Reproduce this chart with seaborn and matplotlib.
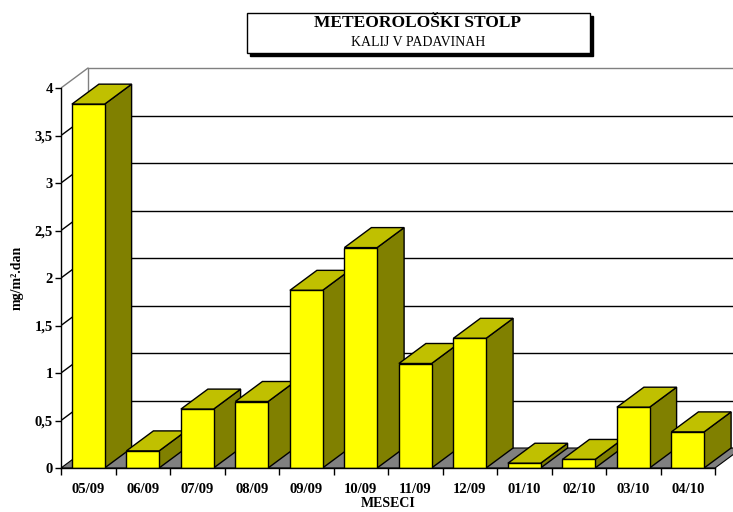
import matplotlib
matplotlib.use('Agg')
import matplotlib.pyplot as plt
import seaborn as sns
import pandas as pd
import numpy as np
from matplotlib.patches import Polygon, Rectangle

# podatki: kalij v padavinah po mesecih
meseci = ['05/09', '06/09', '07/09', '08/09', '09/09', '10/09',
          '11/09', '12/09', '01/10', '02/10', '03/10', '04/10']
kalij = [3.83, 0.18, 0.62, 0.70, 1.87, 2.32, 1.10, 1.365, 0.05, 0.09, 0.64, 0.38]
y_ticks = [0, 0.5, 1, 1.5, 2, 2.5, 3, 3.5, 4]

df = pd.DataFrame({'mesec': meseci, 'kalij': kalij})

sns.set_style('white')
plt.rcParams['font.family'] = ['Liberation Serif', 'DejaVu Serif']
plt.rcParams['text.color'] = 'black'
plt.rcParams['axes.labelcolor'] = 'black'
plt.rcParams['xtick.color'] = 'black'
plt.rcParams['ytick.color'] = 'black'

W, H = 733, 512
fig = plt.figure(figsize=(W / 100, H / 100), dpi=100)

# geometrija (piksli)
x0, y0 = 61, 468      # izhodisce sprednje osi
cat_px, unit_px = 54.5, 95
dx_px, dy_px = 27, 20  # globina 3D ucinka
xmin, xmax = -0.5, 12.0
ymin, ymax = 0, 4.25
ax = fig.add_axes([x0 / W, (H - y0) / H,
                   (xmax - xmin) * cat_px / W, (ymax - ymin) * unit_px / H])
DX = dx_px / cat_px
DY = dy_px / unit_px

# zadnja stena in stranska stena
for v in y_ticks[1:]:
    c = '#808080' if v == 4 else 'black'
    ax.plot([-0.5 + DX, xmax], [v + DY, v + DY], color=c, lw=1, zorder=0.5, clip_on=False)
    ax.plot([-0.5, -0.5 + DX], [v, v + DY], color=c, lw=1, zorder=0.5)
ax.plot([-0.5 + DX, -0.5 + DX], [DY, 4 + DY], color='#808080', lw=1, zorder=0.5)

# tla
n = len(meseci)
floor = Polygon([(-0.5, 0), (n - 0.5, 0), (n - 0.5 + DX, DY), (-0.5 + DX, DY)],
                closed=True, facecolor='#808080', edgecolor='black', lw=0.8, zorder=1)
ax.add_patch(floor)

sns.barplot(data=df, x='mesec', y='kalij', color='#FFFF00', saturation=1,
            width=0.6, edgecolor='black', linewidth=1, ax=ax)

for i, p in enumerate(ax.patches[-n:]):
    x, w, h = p.get_x(), p.get_width(), p.get_height()
    z = 3 + i * 0.1
    p.set_zorder(z + 0.05)
    top = Polygon([(x, h), (x + w, h), (x + w + DX, h + DY), (x + DX, h + DY)],
                  closed=True, facecolor='#C0C000', edgecolor='black', lw=1, zorder=z)
    side = Polygon([(x + w, 0), (x + w + DX, DY), (x + w + DX, h + DY), (x + w, h)],
                   closed=True, facecolor='#808000', edgecolor='black', lw=1, zorder=z)
    ax.add_patch(side)
    ax.add_patch(top)

ax.set_xlim(xmin, xmax)
ax.set_ylim(ymin, ymax)

for s in ['top', 'right']:
    ax.spines[s].set_visible(False)
ax.spines['left'].set_bounds(0, 4)
ax.spines['bottom'].set_bounds(-0.5, n - 0.5)
for s in ['left', 'bottom']:
    ax.spines[s].set_color('black')
    ax.spines[s].set_linewidth(1)
    ax.spines[s].set_zorder(10)

ax.set_yticks(y_ticks)
ax.set_yticklabels([('%g' % v).replace('.', ',') for v in y_ticks],
                   fontweight='bold', fontsize=10.5)
ax.tick_params(axis='y', direction='out', length=4, width=1, color='black', pad=2, left=True)
ax.set_xticks(range(n))
ax.set_xticklabels(meseci, fontweight='bold', fontsize=10.5)
ax.set_xticks(np.arange(-0.5, n, 1), minor=True)
ax.tick_params(axis='x', which='major', length=0, pad=11)
ax.tick_params(axis='x', which='minor', direction='out', length=5, width=1, color='black', bottom=True)

ax.set_xlabel('MESECI', fontweight='bold', fontsize=10)
ax.xaxis.set_label_coords((388 - x0) / ((xmax - xmin) * cat_px), -(497 - y0) / ((ymax - ymin) * unit_px))
ax.set_ylabel('mg/m².dan', fontweight='bold', fontsize=10)
ax.yaxis.set_label_coords(-(x0 - 24) / ((xmax - xmin) * cat_px), (y0 - 278) / ((ymax - ymin) * unit_px))

# naslov v okvirju s senco
bl, bt, br, bb = 247, 12.5, 590, 53
fig.patches.append(Rectangle(((bl + 3) / W, (H - bb - 3) / H), (br - bl) / W, (bb - bt) / H,
                             transform=fig.transFigure, facecolor='black', edgecolor='black'))
fig.patches.append(Rectangle((bl / W, (H - bb) / H), (br - bl) / W, (bb - bt) / H,
                             transform=fig.transFigure, facecolor='white', edgecolor='black', lw=1))
fig.text(418 / W, 1 - 23 / H, 'METEOROLOŠKI STOLP', ha='center', va='center',
         fontweight='bold', fontsize=12.5)
fig.text(418 / W, 1 - 42 / H, 'KALIJ V PADAVINAH', ha='center', va='center', fontsize=10)

fig.savefig('out.png', dpi=100)
